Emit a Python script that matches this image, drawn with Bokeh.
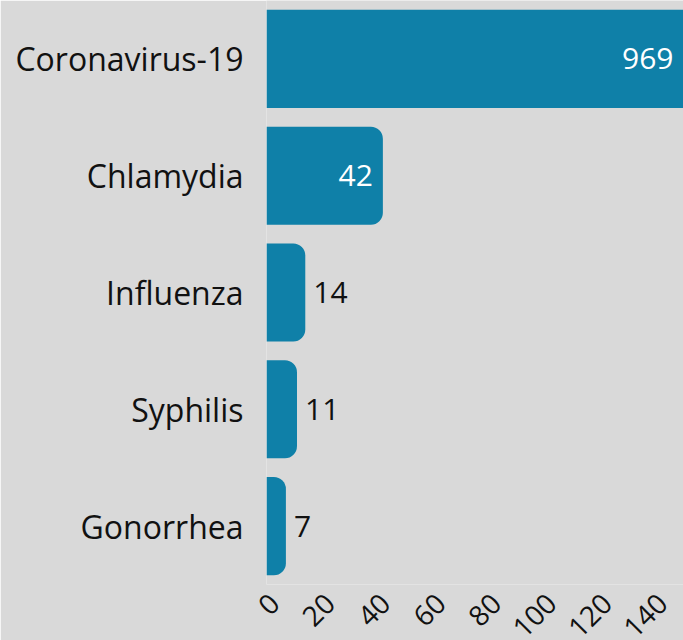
from bokeh.plotting import figure
from bokeh.models import Range1d, FixedTicker
from bokeh.core.properties import value
from bokeh.embed import file_html
from bokeh.resources import INLINE

diseases = ["Coronavirus-19", "Chlamydia", "Influenza", "Syphilis", "Gonorrhea"]
counts = [969, 42, 14, 11, 7]
x_ticks = [0, 20, 40, 60, 80, 100, 120, 140]

BG = "#d9d9d9"
BAR = "#0f80a8"
X_MAX = 150.5
TICK_SHIFT = 2.9  # shifts rotated tick labels so their ends sit as in the reference

p = figure(y_range=list(reversed(diseases)), x_range=Range1d(0, X_MAX),
           width=683, height=640, output_backend="svg", toolbar_location=None,
           min_border_top=0, min_border_right=0, min_border_left=266, min_border_bottom=56)
p.background_fill_color = BG
p.border_fill_color = BG
p.outline_line_color = None
p.grid.visible = False

over_y = [d for d, c in zip(diseases, counts) if c > X_MAX]
over_x = [c for c in counts if c > X_MAX]
in_y = [d for d, c in zip(diseases, counts) if c <= X_MAX]
in_x = [c for c in counts if c <= X_MAX]

p.hbar(y=over_y, right=over_x, left=0, height=0.84, fill_color=BAR, line_color=None)
p.hbar(y=in_y, right=in_x, left=0, height=0.84, fill_color=BAR,
       line_color=None, border_radius=(0, 12, 12, 0))

inside_y = [d for d, c in zip(diseases, counts) if c > 30]
inside_x = [min(c, X_MAX) for c in counts if c > 30]
inside_t = [str(c) for c in counts if c > 30]
outside_y = [d for d, c in zip(diseases, counts) if c <= 30]
outside_x = [c for c in counts if c <= 30]
outside_t = [str(c) for c in counts if c <= 30]

p.text(x=inside_x, y=inside_y, text=inside_t, text_align="right", text_baseline="middle",
       x_offset=-10, text_color="white", text_font=value("Open Sans"), text_font_size="30px")
p.text(x=outside_x, y=outside_y, text=outside_t, text_align="left", text_baseline="middle",
       x_offset=8, text_color="#111111", text_font=value("Open Sans"), text_font_size="30px")

p.xaxis.ticker = FixedTicker(ticks=[t + TICK_SHIFT for t in x_ticks])
p.xaxis.major_label_overrides = {t + TICK_SHIFT: str(t) for t in x_ticks}
p.xaxis.major_label_orientation = 0.785398
p.xaxis.major_label_text_font = "Open Sans"
p.xaxis.major_label_text_font_size = "28px"
p.xaxis.major_label_text_color = "#111111"
p.xaxis.axis_line_color = None
p.xaxis.major_tick_line_color = None
p.xaxis.minor_tick_line_color = None
p.xaxis.major_label_standoff = 8

p.yaxis.major_label_text_font = "Open Sans"
p.yaxis.major_label_text_font_size = "32px"
p.yaxis.major_label_text_color = "#111111"
p.yaxis.axis_line_color = None
p.yaxis.major_tick_line_color = None
p.yaxis.minor_tick_line_color = None
p.yaxis.major_label_standoff = 17

p.frame_width = 417
p.frame_height = 584

html = file_html(p, INLINE)
html = html.replace("<body>", '<body style="margin:0;background:%s;overflow:hidden">' % BG, 1)
open("out.html", "w").write(html)
